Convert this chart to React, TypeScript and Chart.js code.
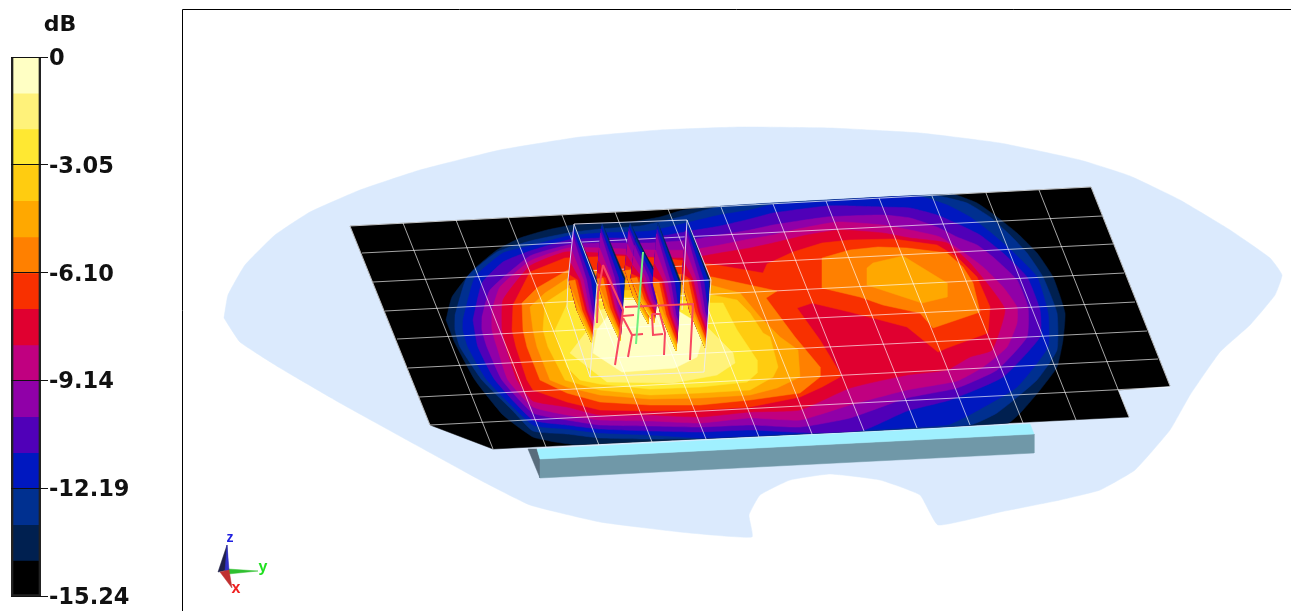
import React, { useEffect, useRef } from "react";
import { Chart, registerables } from "chart.js";

Chart.register(...registerables);

type Pt = [number, number];

// ---------- colour bar ----------
const bandEdges = [0, -1.02, -2.03, -3.05, -4.06, -5.08, -6.1, -7.11, -8.13, -9.14, -10.16, -11.18, -12.19, -13.21, -14.22, -15.24];
const bandColors = ["#ffffc4", "#fff27a", "#ffe832", "#ffcc10", "#ffa800", "#ff8000", "#f83000", "#e00030", "#c00080", "#9000a8", "#5000b8", "#0018c0", "#003090", "#002050", "#000000"];
const tickValues = [0, -3.05, -6.1, -9.14, -12.19, -15.24];
const unitLabel = "dB";

// ---------- scene outlines ----------
const roomOutline: Pt[] = [[224,318],[228,295],[245,265],[275,235],[310,212],[360,190],[420,170],[500,150],[580,137],[660,130],[740,127],[830,128],[920,133],[1000,143],[1080,160],[1130,176],[1180,200],[1230,230],[1270,258],[1282,275],[1275,295],[1250,325],[1220,352],[1190,395],[1170,430],[1135,470],[1100,490],[1060,500],[1000,512],[938,525],[920,495],[880,480],[830,474],[790,480],[760,495],[749,515],[752,537],[680,532],[600,522],[530,505],[480,480],[407,440],[340,403],[280,368],[240,342]];
const sheetOutline: Pt[] = [[350,226],[1091,187],[1170,386],[1118,390],[1129,417],[493,449],[430,425]];
const stripTop: Pt[] = [[537,449],[1030,424],[1034,434],[540,459]];
const stripFront: Pt[] = [[540,459],[1034,434],[1034,453],[540,478]];
const stripSide: Pt[] = [[528,449],[537,449],[540,459],[540,478]];

const columnStarts: Pt[] = [[350,226],[403,223],[456,220],[508,217],[562,215],[615,212],[668,209],[721,207],[773,204],[826,201],[879,198],[932,196],[986,193],[1039,190],[1091,187]];
const columnEnds: Pt[] = [[430,425],[493,449],[546,447],[599,445],[652,442],[706,439],[759,437],[812,434],[864,431],[917,428],[970,425],[1023,423],[1076,420],[1129,417],[1170,386]];
const rowStarts: Pt[] = [[362,253],[373,282],[385,311],[397,339],[408,368],[419,397],[430,425]];
const rowEnds: Pt[] = [[1102,216],[1113,244],[1124,273],[1135,302],[1147,331],[1158,359],[1170,387]];

// ---------- contour outlines, from the outer level to the hottest ----------
const level1: Pt[] = [[446,320],[452,297],[473,270],[497,250],[520,238],[547,230],[573,225],[630,222],[660,217],[683,210],[707,207.2],[952,194.3],[977,203],[997,217],[1017,233],[1037,253],[1053,277],[1065,313],[1063,340],[1057,367],[1040,390],[1023,410],[1008,423],[620,442.6],[575,444.5],[555,442],[533,437],[503,415],[475,380],[455,343]];
const level2: Pt[] = [[455,315],[467,277],[497,252],[530,241],[568,233],[600,229],[640,226],[680,217],[720,206.4],[933,195.3],[967,203],[990,217],[1010,235],[1027,253],[1043,277],[1057,313],[1057,350],[1037,380],[997,413],[970,425],[705,438.3],[650,439],[600,438],[567,434],[533,431],[512,410],[482,380],[460,347],[455,330]];
const level3: Pt[] = [[463,320],[475,277],[503,253],[530,246],[568,236],[600,233],[650,231],[690,222],[720,215],[750,210],[773,204.5],[917,196],[947,205],[970,217],[990,232],[1013,252],[1037,277],[1048,313],[1048,347],[1017,387],[973,413],[947,425],[740,436.5],[700,438],[650,435],[600,433],[567,429],[533,425],[487,380],[468,347],[463,330]];
const level4: Pt[] = [[473,320],[482,283],[503,262],[530,251],[568,240],[600,238],[650,238],[690,231],[720,226],[750,219],[773,213],[827,206],[850,206],[883,207],[910,208],[937,215],[960,225],[980,235],[1003,253],[1027,277],[1040,310],[1040,337],[1003,377],[950,400],[907,411],[864,430],[812,433],[750,430],[700,432],[650,431],[600,429],[567,425],[533,420],[495,380],[478,347]];
const level5: Pt[] = [[482,317],[490,290],[530,256],[568,245],[600,243],[650,243],[690,240],[720,235],[750,230],[773,225],[827,217],[883,215],[910,218],[937,227],[957,237],[977,245],[993,257],[1017,280],[1028,307],[1027,337],[997,370],[957,388],[907,398],[850,418],[800,427],[750,425],[700,427],[650,426],[600,425],[567,420],[533,413],[502,380],[487,347],[482,330]];
const level6: Pt[] = [[492,310],[500,287],[530,261],[568,248],[600,248],[650,250],[690,250],[720,245],[750,239],[773,235],[793,230],[837,222],[883,225],[910,230],[940,237],[963,252],[983,267],[1003,287],[1017,307],[1017,323],[1007,347],[983,367],[957,381],[907,390],[850,405],[800,420],[750,418],[700,423],[650,421],[600,420],[567,415],[533,407],[508,380],[497,347],[492,330]];
const level7: Pt[] = [[502,330],[503,300],[530,266],[565,252],[600,253],[650,257],[690,258],[720,253],[750,248],[773,243],[807,235],[840,230],[883,233],[910,238],[947,243],[970,263],[990,287],[1005,310],[992,350],[970,357],[947,370],[907,375],[850,388],[800,410],[750,412],[700,417],[650,415],[600,415],[567,407],[533,401],[517,380],[506,347]];
const level8: Pt[] = [[512,330],[513,305],[530,272],[565,258],[620,256],[660,258],[705,263],[763,273],[767,264],[793,252],[822,243],[850,240],[893,239],[937,245],[957,257],[977,277],[990,307],[988,333],[947,348],[938,352],[907,327],[850,312],[812,303],[797,308],[820,340],[840,373],[840,377],[822,387],[800,397],[750,407],[700,410],[650,411],[600,410],[567,402],[533,390],[527,380],[516,347]];
const level9: Pt[] = [[523,330],[522,303],[537,288],[568,270],[600,270],[650,272],[712,277],[777,291],[766,298],[795,337],[820,367],[820,377],[800,393],[750,400],[700,405],[650,405],[600,402],[567,393],[540,380],[527,347]];
const level9East: Pt[] = [[822,258],[850,250],[878,247],[907,248],[947,253],[963,267],[973,283],[980,312],[933,328],[920,313],[883,305],[860,297],[822,288]];
const level10: Pt[] = [[533,330],[530,307],[545,293],[568,278],[600,279],[650,281],[710,285],[740,293],[760,317],[780,337],[798,350],[800,377],[777,388],[750,395],[700,398],[650,399],[600,395],[567,387],[550,380],[537,347]];
const level10East: Pt[] = [[867,268],[873,263],[903,256],[947,283],[947,297],[922,303],[867,285]];
const level11: Pt[] = [[543,330],[545,303],[568,288],[620,290],[680,293],[712,295],[737,300],[750,313],[763,333],[770,337],[778,367],[773,377],[750,390],[700,393],[650,395],[600,390],[565,380],[548,347]];
const level12: Pt[] = [[555,330],[563,313],[568,302],[620,297],[680,300],[711,303],[723,303],[737,330],[757,360],[757,373],[747,382],[700,387],[650,389],[600,384],[580,380],[567,367],[560,347]];
const level13: Pt[] = [[570,353],[590,327],[600,310],[650,305],[707,327],[733,353],[735,363],[717,375],[673,383],[607,382]];
const level14: Pt[] = [[597,330],[593,353],[622,372],[675,368],[697,357],[702,340],[693,320],[660,300],[620,300]];

// ---------- radiating panels: one band pattern ----------
const panelTops: Pt[] = [[574,225],[602,223],[630,223],[636,238],[658,223],[687,220]];
const panelHeights = [1, 1, 0.85, 0.72, 1.08, 1.08];
const panelBands: Pt[][] = [
  [[0,0],[23,55],[18,118],[3,85],[-5,55]],
  [[0,0.5],[21.5,58],[22,62],[18,118],[3,85],[-5,55]],
  [[-0.5,3],[21,55],[21.5,70],[18,118],[3,85],[-5,55]],
  [[-1,6],[16.7,55],[21,85],[18,118],[3,85],[-5,55]],
  [[-1.5,10],[12.7,55],[18,85],[20.5,92],[18,118],[3,85],[-5,55]],
  [[-2.5,25],[9.5,55],[15.5,85],[20,97],[18,118],[3,85],[-5,55]],
  [[-3.5,38],[6,55],[13,85],[19.5,102],[18,118],[3,85],[-5,55]],
  [[-4.5,50],[3.5,55],[11,85],[19,106],[18,118],[3,85],[-5,55]],
  [[-5,56],[1,55],[8,85],[18.6,110],[18,118],[3,85]],
  [[-2,65],[6,85],[18.3,112],[18,118],[3,85]],
  [[3,85],[18.1,115],[18,118]],
  [[10,101],[18,117],[18,118]],
];
const panelBandColors = ["#002050","#003090","#0018c0","#5000b8","#9000a8","#c00080","#e00030","#f83000","#ff8000","#ffa800","#ffcc10","#ffe832"];

const frameLines: Pt[][] = [
  [[574,224],[687,220],[711,280],[597,285],[574,224]],
  [[574,224],[568,280],[567,307],[590,377],[597,285]],
  [[590,377],[704,372],[711,280]],
  [[687,220],[682,310]],
];
const dipoleLines: Pt[][] = [
  [[603,265],[598,293],[597,323]],
  [[603,265],[623,310],[620,333],[615,365]],
  [[625,307],[693,304],[690,360]],
  [[623,316],[634,315]],
  [[623,318],[632,335],[628,357]],
  [[632,335],[643,334]],
  [[652,314],[660,314],[665,333],[664,355]],
  [[652,314],[653,335],[663,334]],
];
const feedLine: Pt[] = [[643,252],[636,344]];

// ---------- axis triad ----------
const triadZ: Pt[] = [[227,545],[228,570],[218,572]];
const triadZLight: Pt[] = [[227,545],[229,570],[225,571]];
const triadX: Pt[] = [[220,572],[229,570],[232,588]];
const triadY: Pt[] = [[228,569],[258,571],[228,574]];
const triadLabels: { text: string; at: Pt; color: string; size: number }[] = [
  { text: "z", at: [230, 538], color: "#2020e0", size: 14 },
  { text: "y", at: [263, 568], color: "#20e020", size: 16 },
  { text: "x", at: [236, 589], color: "#f02020", size: 16 },
];
const panelBorder: Pt[] = [[182.5,611],[182.5,9.5],[1291,9.5]];

const toData = (pts: Pt[]) => pts.map(([x, y]) => ({ x, y }));
const poly = (pts: Pt[], color: string, tension = 0) => ({
  data: toData([...pts, pts[0]]),
  showLine: true,
  fill: "shape",
  backgroundColor: color,
  borderColor: color,
  borderWidth: 0.5,
  pointRadius: 0,
  tension,
});
const line = (pts: Pt[], color: string, width: number) => ({
  data: toData(pts),
  showLine: true,
  fill: false,
  borderColor: color,
  borderWidth: width,
  pointRadius: 0,
  tension: 0,
});

function sceneDatasets() {
  const levels = [level1, level2, level3, level4, level5, level6, level7, level8, level9, level10, level11, level12, level13, level14];
  const ds: any[] = [];
  ds.push(poly(roomOutline, "#dbeafd", 0.12));
  ds.push(poly(sheetOutline, "#000000"));
  levels.forEach((lv, i) => {
    ds.push(poly(lv, bandColors[13 - i], i < 7 ? 0.15 : 0));
  });
  ds.push(poly(level9East, "#ff8000"));
  ds.push(poly(level10East, "#ffa800"));
  columnStarts.forEach((p, i) => ds.push(line([p, columnEnds[i]], "rgba(255,255,255,0.65)", 1)));
  rowStarts.forEach((p, i) => ds.push(line([p, rowEnds[i]], "rgba(255,255,255,0.65)", 1)));
  ds.push(line([sheetOutline[0], sheetOutline[1]], "rgba(255,255,255,0.7)", 1));
  panelTops.forEach((t, pi) => {
    panelBands.forEach((band, bi) => {
      const pts = band.map(([dx, dy]) => [t[0] + dx, t[1] + dy * panelHeights[pi]] as Pt);
      ds.push(poly(pts, panelBandColors[bi]));
    });
  });
  frameLines.forEach((l) => ds.push(line(l, "rgba(235,235,255,0.85)", 1)));
  dipoleLines.forEach((l) => ds.push(line(l, "#f84860", 2)));
  ds.push(line(feedLine, "#70f080", 2));
  ds.push(poly(stripSide, "#586c7c"));
  ds.push(poly(stripFront, "#7098a8"));
  ds.push(poly(stripTop, "#a0f0ff"));
  ds.push(poly(triadY, "#30c030"));
  ds.push(poly(triadZ, "#20204a"));
  ds.push(poly(triadZLight, "#3030c8"));
  ds.push(poly(triadX, "#c03030"));
  ds.push(line(panelBorder, "#000000", 1));
  return ds.reverse();
}

export default function App() {
  const sceneRef = useRef<HTMLCanvasElement>(null);
  const barRef = useRef<HTMLCanvasElement>(null);

  useEffect(() => {
    document.body.style.margin = "0";
    const labelPlugin = {
      id: "triadLabels",
      afterDatasetsDraw(chart: any) {
        const { ctx, scales } = chart;
        ctx.save();
        ctx.textAlign = "center";
        ctx.textBaseline = "middle";
        triadLabels.forEach((l) => {
          ctx.font = `bold ${l.size}px 'Liberation Sans'`;
          ctx.fillStyle = l.color;
          ctx.fillText(l.text, scales.x.getPixelForValue(l.at[0]), scales.y.getPixelForValue(l.at[1]));
        });
        ctx.restore();
      },
    };
    const scene = new Chart(sceneRef.current!, {
      type: "scatter",
      data: { datasets: sceneDatasets() },
      plugins: [labelPlugin],
      options: {
        animation: false,
        responsive: false,
        events: [],
        layout: { padding: 0 },
        plugins: { legend: { display: false }, tooltip: { enabled: false } },
        scales: {
          x: { type: "linear", min: 0, max: 1291, display: false },
          y: { type: "linear", min: 0, max: 611, reverse: true, display: false },
        },
      } as any,
    });

    const unitPlugin = {
      id: "unitLabel",
      afterDraw(chart: any) {
        const { ctx } = chart;
        ctx.save();
        ctx.font = "bold 22px 'DejaVu Sans'";
        ctx.fillStyle = "#111";
        ctx.textAlign = "center";
        ctx.textBaseline = "middle";
        ctx.fillText(unitLabel, 60, 25);
        ctx.restore();
      },
    };
    const bands = bandColors.map((c, i) => ({
      data: [[bandEdges[i + 1], bandEdges[i]]],
      backgroundColor: c,
      borderWidth: 0,
      barPercentage: 1,
      categoryPercentage: 1,
    }));
    const outline = {
      data: [[bandEdges[15], bandEdges[0]]],
      backgroundColor: "rgba(0,0,0,0)",
      borderColor: "#222",
      borderWidth: 2,
      barPercentage: 1,
      categoryPercentage: 1,
    };
    const bar = new Chart(barRef.current!, {
      type: "bar",
      data: { labels: [unitLabel], datasets: [outline, ...bands] as any },
      plugins: [unitPlugin],
      options: {
        animation: false,
        responsive: false,
        events: [],
        layout: { padding: { left: 11, top: 57, bottom: 14, right: 0 } },
        plugins: { legend: { display: false }, tooltip: { enabled: false } },
        scales: {
          x: { display: false, stacked: false, grid: { display: false } },
          y: {
            position: "right",
            min: -15.24,
            max: 0,
            afterFit: (s: any) => { s.width = 139; },
            afterBuildTicks: (s: any) => { s.ticks = tickValues.map((value) => ({ value })); },
            border: { display: false },
            grid: { color: "#111", tickLength: 7, lineWidth: 1, z: 1 },
            ticks: {
              color: "#111",
              padding: 1,
              labelOffset: 2,
              font: { family: "'DejaVu Sans'", size: 22.5, weight: "bold" },
              callback: (v: any) => (v === 0 ? "0" : Number(v).toFixed(2)),
            },
          },
        },
        datasets: { bar: { grouped: false } },
      } as any,
    });
    return () => { scene.destroy(); bar.destroy(); };
  }, []);

  return (
    <div>
      <canvas ref={sceneRef} width={1291} height={611} style={{ position: "absolute", left: 0, top: 0 }} />
      <canvas ref={barRef} width={180} height={611} style={{ position: "absolute", left: 0, top: 0 }} />
    </div>
  );
}
